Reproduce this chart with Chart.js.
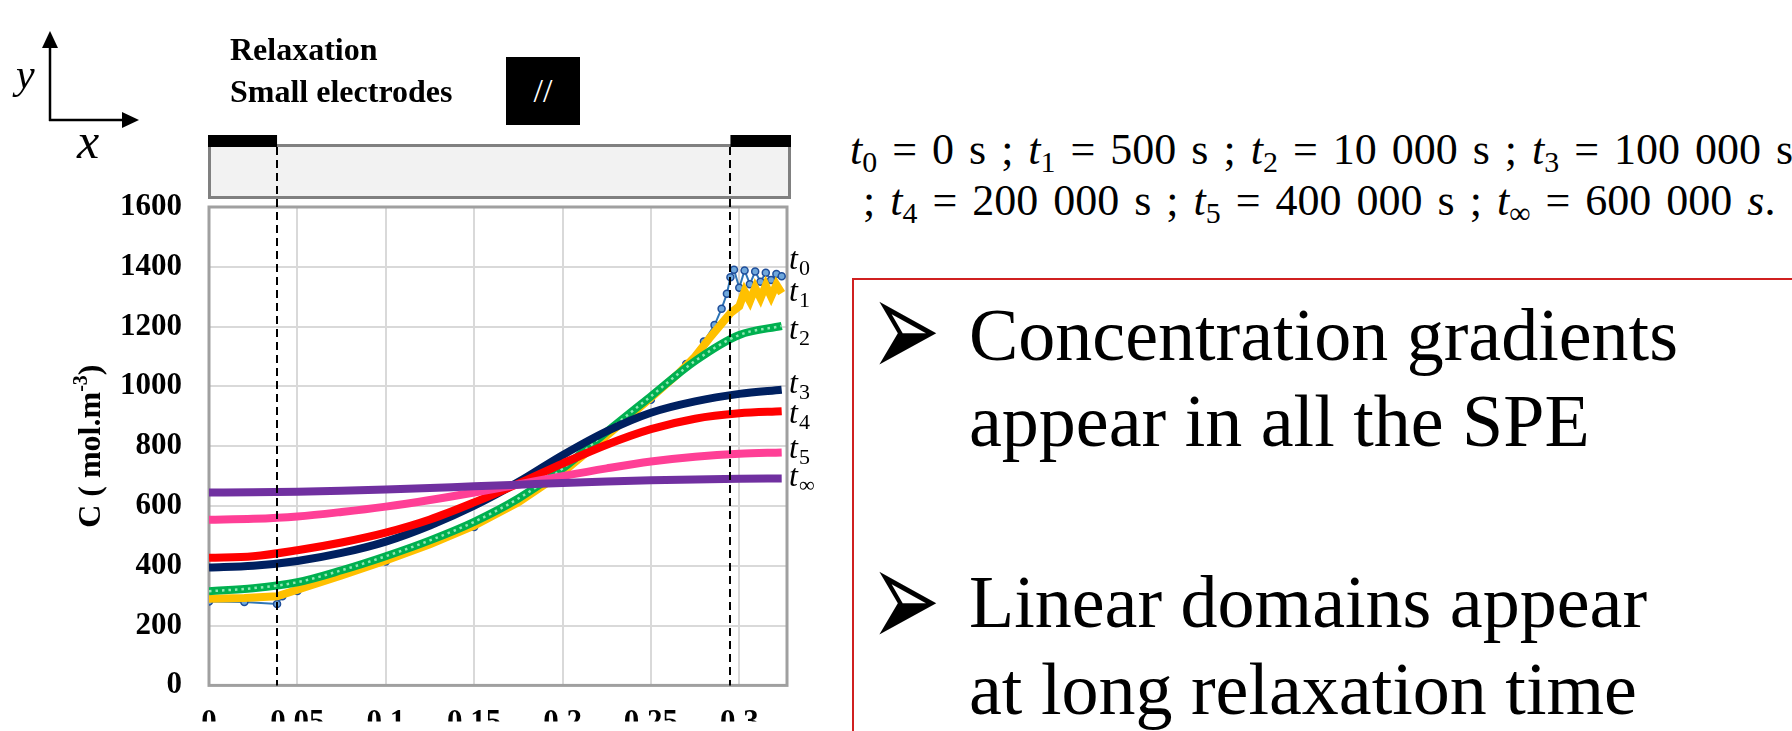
<!DOCTYPE html>
<html><head><meta charset="utf-8">
<script src="https://cdn.jsdelivr.net/npm/chart.js@4.4.1/dist/chart.umd.min.js"></script>
<style>
html,body{margin:0;padding:0;background:#fff;width:1792px;height:731px;overflow:hidden;position:relative;font-family:"Liberation Serif",serif;color:#000;}
.abs{position:absolute;white-space:nowrap;line-height:1;}
#chartWrap{position:absolute;left:0;top:0;width:840px;height:731px;}
.sub{font-size:0.68em;position:relative;top:0.28em;}
.it{font-style:italic;}
.fl{font-size:44px;word-spacing:4px;}
.big{font-size:74px;left:969px;}
.bul{font-family:"DejaVu Sans";font-size:84px;left:870px;transform:scaleY(1.7);}
</style></head><body>
<div id="chartWrap"><canvas id="c" width="840" height="731"></canvas></div>

<svg class="abs" style="left:0;top:0" width="160" height="140">
  <line x1="50" y1="44" x2="50" y2="121" stroke="#000" stroke-width="2.5"/>
  <polygon points="50,31 42,48 58,48" fill="#000"/>
  <line x1="49" y1="120" x2="126" y2="120" stroke="#000" stroke-width="2.5"/>
  <polygon points="139,120 122,112 122,128" fill="#000"/>
</svg>
<div class="abs it" style="left:16px;top:53px;font-size:42px;">y</div>
<div class="abs it" style="left:77px;top:116px;font-size:50px;">x</div>

<div class="abs" style="left:230px;top:33px;font-size:32px;font-weight:bold;">Relaxation</div>
<div class="abs" style="left:230px;top:75px;font-size:32px;font-weight:bold;">Small electrodes</div>
<div class="abs" style="left:506px;top:57px;width:74px;height:68px;background:#000;color:#fff;font-size:34px;line-height:68px;text-align:center;">//</div>

<div class="abs fl" style="left:850px;top:128px;"><span class="it">t</span><span class="sub">0</span> = 0 s ; <span class="it">t</span><span class="sub">1</span> = 500 s ; <span class="it">t</span><span class="sub">2</span> = 10 000 s ; <span class="it">t</span><span class="sub">3</span> = 100 000 s</div>
<div class="abs fl" style="left:863px;top:179px;">; <span class="it">t</span><span class="sub">4</span> = 200 000 s ; <span class="it">t</span><span class="sub">5</span> = 400 000 s ; <span class="it">t</span><span class="sub">∞</span> = 600 000 <span class="it">s</span>.</div>

<div class="abs" style="left:852px;top:278px;width:1100px;height:600px;border:2px solid #D02020;box-sizing:border-box;"></div>
<div class="abs bul" style="top:287px;">➢</div>
<div class="abs big" style="top:298px;">Concentration gradients</div>
<div class="abs big" style="top:384px;">appear in all the SPE</div>
<div class="abs bul" style="top:557px;">➢</div>
<div class="abs big" style="top:565px;">Linear domains appear</div>
<div class="abs big" style="top:652px;">at long relaxation time</div>

<script>
// ---------- data ----------
const xPos = [0, 0.025, 0.05, 0.075, 0.1, 0.125, 0.15, 0.175, 0.2, 0.225, 0.25, 0.275, 0.3, 0.324];
const cInf = [645, 646, 648, 651, 655, 660, 666, 671, 677, 682, 686, 689, 691, 692];
const c5   = [554, 557, 565, 580, 598, 620, 645, 672, 700, 726, 749, 765, 775, 779];
const c4   = [427, 432, 452, 478, 511, 555, 612, 675, 742, 805, 857, 892, 910, 917];
const c3   = [394, 400, 416, 443, 481, 535, 601, 680, 770, 850, 912, 950, 975, 989];
const c2   = [315, 325, 345, 385, 432, 485, 547, 625, 725, 848, 967, 1085, 1172, 1202];
const x1 = [0, 0.02, 0.0385, 0.05, 0.075, 0.1, 0.125, 0.15, 0.175, 0.2, 0.225, 0.25, 0.265, 0.275, 0.283, 0.29, 0.295, 0.3, 0.303, 0.306, 0.309, 0.312, 0.315, 0.318, 0.321, 0.324];
const c1 = [290, 292, 298, 320, 368, 418, 472, 534, 612, 712, 835, 962, 1040, 1100, 1160, 1210, 1245, 1268, 1318, 1285, 1330, 1295, 1338, 1300, 1340, 1312];
const x0 = [0, 0.02, 0.0385, 0.0415, 0.05, 0.1, 0.15, 0.2, 0.25, 0.27, 0.28, 0.286, 0.29, 0.293, 0.295, 0.297, 0.3, 0.303, 0.306, 0.309, 0.312, 0.315, 0.318, 0.321, 0.324];
const c0 = [281, 279, 272, 298, 316, 414, 530, 705, 955, 1075, 1150, 1205, 1260, 1310, 1365, 1390, 1330, 1388, 1342, 1384, 1350, 1380, 1356, 1376, 1368];
const labelSubs = ['0', '1', '2', '3', '4', '5', '∞'];
const labelAnchors = [1392, 1284, 1157, 977, 879, 760, 666];
const yTickValues = [0, 200, 400, 600, 800, 1000, 1200, 1400, 1600];
const xTickValues = [0, 0.05, 0.1, 0.15, 0.2, 0.25, 0.3];
const electrodeEdges = [0.0385, 0.295];
const xMax = 0.327;
const yMax = 1600;

const pts = (xs, ys) => xs.map((v, i) => ({x: v, y: ys[i]}));
const FONT = '"Liberation Serif", serif';

const smooth = {cubicInterpolationMode: 'monotone', pointRadius: 0, borderWidth: 8, fill: false};
const datasets = [
  {label: 't0', data: pts(x0, c0), borderColor: '#2E75B6', borderWidth: 2, tension: 0,
   pointRadius: 3.5, pointBackgroundColor: '#6FA8DC', pointBorderColor: '#1F4E9A', pointBorderWidth: 1.5, order: 8},
  {label: 't1', data: pts(x1, c1), borderColor: '#FFC000', borderWidth: 8, tension: 0, pointRadius: 0, order: 7},
  Object.assign({label: 't2', data: pts(xPos, c2), borderColor: '#00B050', order: 6}, smooth),
  Object.assign({label: 't2 dots', data: pts(xPos, c2), borderColor: '#8FE8B4', order: 5}, smooth, {borderWidth: 2.5, borderDash: [2.5, 4]}),
  Object.assign({label: 't3', data: pts(xPos, c3), borderColor: '#002060', order: 4}, smooth),
  Object.assign({label: 't4', data: pts(xPos, c4), borderColor: '#FF0000', order: 3}, smooth),
  Object.assign({label: 't5', data: pts(xPos, c5), borderColor: '#FF3F96', order: 2}, smooth),
  Object.assign({label: 't∞', data: pts(xPos, cInf), borderColor: '#7030A0', order: 1}, smooth),
];

const deco = {
  id: 'deco',
  beforeDatasetsDraw(chart) {
    const {ctx, chartArea: a, scales: {x}} = chart;
    ctx.save();
    ctx.strokeStyle = '#A0A0A0'; ctx.lineWidth = 3;
    ctx.strokeRect(a.left, a.top, a.right - a.left, a.bottom - a.top);
    ctx.fillStyle = '#F2F2F2';
    ctx.fillRect(a.left + 1, a.top - 61, a.right - a.left + 1, 51);
    ctx.strokeStyle = '#808080'; ctx.lineWidth = 3;
    ctx.strokeRect(a.left + 0.5, a.top - 61.5, a.right - a.left + 2, 52);
    ctx.fillStyle = '#000';
    const e0 = x.getPixelForValue(electrodeEdges[0]);
    const e1 = x.getPixelForValue(electrodeEdges[1]);
    ctx.fillRect(a.left - 1, a.top - 72, e0 - a.left + 1, 12);
    ctx.fillRect(e1, a.top - 72, a.right + 4 - e1, 12);
    ctx.restore();
  },
  afterDatasetsDraw(chart) {
    const {ctx, chartArea: a, scales: {x, y}} = chart;
    ctx.save();
    ctx.strokeStyle = '#000'; ctx.lineWidth = 2; ctx.setLineDash([8, 5]);
    electrodeEdges.forEach(v => {
      const px = Math.round(x.getPixelForValue(v));
      ctx.beginPath(); ctx.moveTo(px, a.top - 60); ctx.lineTo(px, a.bottom); ctx.stroke();
    });
    ctx.setLineDash([]);
    ctx.fillStyle = '#000'; ctx.textAlign = 'left'; ctx.textBaseline = 'alphabetic';
    labelAnchors.forEach((v, i) => {
      const py = y.getPixelForValue(v);
      const px = a.right + 2;
      ctx.font = 'italic 32px ' + FONT;
      ctx.fillText('t', px, py);
      const w = ctx.measureText('t').width;
      ctx.font = '22px ' + FONT;
      ctx.fillText(labelSubs[i], px + w + 1, py + 6);
    });
    ctx.translate(92, (a.top + a.bottom) / 2);
    ctx.rotate(-Math.PI / 2);
    ctx.textBaseline = 'middle';
    const big = 'bold 32px ' + FONT, small = 'bold 20px ' + FONT;
    const p1 = 'C ( mol.m', p2 = '-3', p3 = ')';
    ctx.font = big; const w1 = ctx.measureText(p1).width, w3 = ctx.measureText(p3).width;
    ctx.font = small; const w2 = ctx.measureText(p2).width;
    let s = -(w1 + w2 + w3) / 2;
    ctx.font = big; ctx.fillText(p1, s, 0);
    ctx.font = small; ctx.fillText(p2, s + w1, -10);
    ctx.font = big; ctx.fillText(p3, s + w1 + w2, 0);
    ctx.restore();
  }
};

new Chart(document.getElementById('c'), {
  type: 'line',
  data: {datasets},
  options: {
    responsive: false, animation: false, devicePixelRatio: 1,
    layout: {padding: {left: 0, top: 207, right: 53, bottom: 0}},
    plugins: {legend: {display: false}, tooltip: {enabled: false}, title: {display: false}},
    scales: {
      x: {
        type: 'linear', min: 0, max: xMax,
        afterFit: s => { s.height = 36; },
        afterBuildTicks: s => { s.ticks = xTickValues.map(v => ({value: v})); },
        ticks: {padding: 19, autoSkip: false, maxRotation: 0, color: '#000',
          font: {family: FONT, size: 31, weight: 'bold'},
          callback: v => String(v)},
        grid: {color: '#D9D9D9', lineWidth: 2, drawTicks: false},
        border: {display: false}
      },
      y: {
        type: 'linear', min: 0, max: yMax,
        afterFit: s => { s.width = 209; },
        afterBuildTicks: s => { s.ticks = yTickValues.map(v => ({value: v})); },
        ticks: {padding: 27, color: '#000', font: {family: FONT, size: 31, weight: 'bold'},
          callback: v => String(v)},
        grid: {color: '#D9D9D9', lineWidth: 2, drawTicks: false},
        border: {display: false}
      }
    }
  },
  plugins: [deco]
});
</script>
</body></html>
